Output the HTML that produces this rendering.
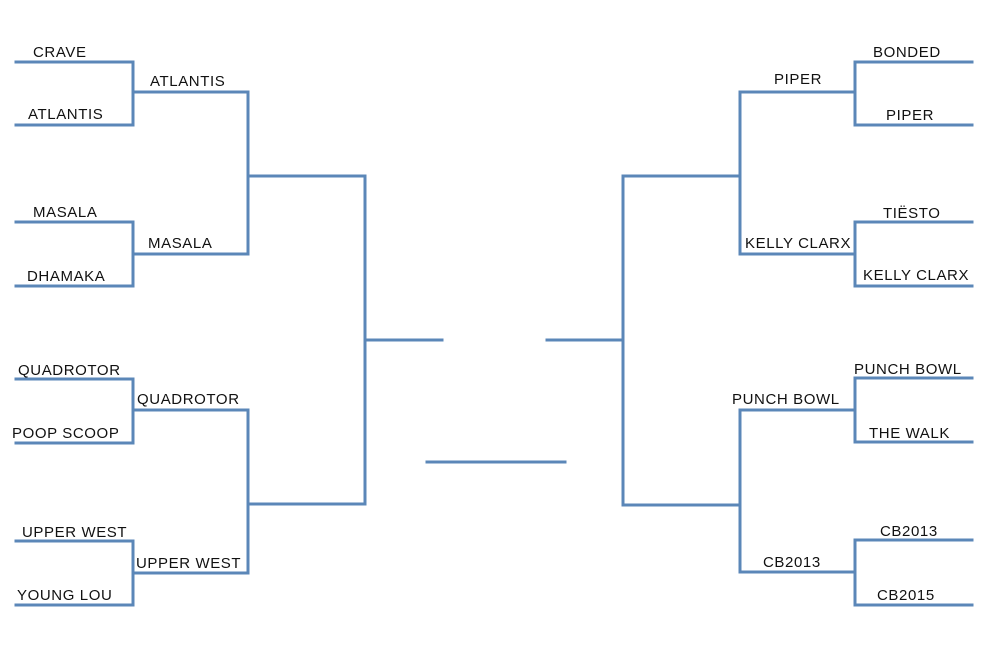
<!DOCTYPE html>
<html><head><meta charset="utf-8"><style>
html,body{margin:0;padding:0;background:#fff;width:1000px;height:655px;overflow:hidden}
svg text{font-family:"Liberation Sans",sans-serif;font-size:15px;fill:#111;letter-spacing:0.6px}
</style></head><body>
<svg width="1000" height="655" viewBox="0 0 1000 655">
<g stroke="#5b87b8" stroke-width="3" fill="none" stroke-linecap="square">
<!-- left top -->
<polyline points="16,62 133,62 133,125 16,125"/>
<polyline points="16,222 133,222 133,286 16,286"/>
<line x1="133" y1="92" x2="248" y2="92"/>
<line x1="133" y1="254" x2="248" y2="254"/>
<line x1="248" y1="92" x2="248" y2="254"/>
<line x1="248" y1="176" x2="365" y2="176"/>
<!-- left bottom -->
<polyline points="16,379 133,379 133,443 16,443"/>
<polyline points="16,541 133,541 133,605 16,605"/>
<line x1="133" y1="410" x2="248" y2="410"/>
<line x1="133" y1="573" x2="248" y2="573"/>
<line x1="248" y1="410" x2="248" y2="573"/>
<line x1="248" y1="504" x2="365" y2="504"/>
<line x1="365" y1="176" x2="365" y2="504"/>
<line x1="365" y1="340" x2="442" y2="340"/>
<!-- center -->
<line x1="427" y1="462" x2="565" y2="462"/>
<!-- right top -->
<polyline points="972,62 855,62 855,125 972,125"/>
<polyline points="972,222 855,222 855,286 972,286"/>
<line x1="740" y1="92" x2="855" y2="92"/>
<line x1="740" y1="254" x2="855" y2="254"/>
<line x1="740" y1="92" x2="740" y2="254"/>
<line x1="623" y1="176" x2="740" y2="176"/>
<!-- right bottom -->
<polyline points="972,378 855,378 855,442 972,442"/>
<polyline points="972,540 855,540 855,605 972,605"/>
<line x1="740" y1="410" x2="855" y2="410"/>
<line x1="740" y1="572" x2="855" y2="572"/>
<line x1="740" y1="410" x2="740" y2="572"/>
<line x1="623" y1="505" x2="740" y2="505"/>
<line x1="623" y1="176" x2="623" y2="505"/>
<line x1="547" y1="340" x2="623" y2="340"/>
</g>
<g>
<text x="33" y="57">CRAVE</text>
<text x="28" y="119">ATLANTIS</text>
<text x="150" y="86">ATLANTIS</text>
<text x="33" y="217">MASALA</text>
<text x="27" y="281">DHAMAKA</text>
<text x="148" y="248">MASALA</text>
<text x="18" y="375">QUADROTOR</text>
<text x="12" y="438">POOP SCOOP</text>
<text x="137" y="404">QUADROTOR</text>
<text x="22" y="537">UPPER WEST</text>
<text x="17" y="600">YOUNG LOU</text>
<text x="136" y="568">UPPER WEST</text>
<text x="873" y="57">BONDED</text>
<text x="886" y="120">PIPER</text>
<text x="774" y="84">PIPER</text>
<text x="883" y="218">TIËSTO</text>
<text x="863" y="280">KELLY CLARX</text>
<text x="745" y="248">KELLY CLARX</text>
<text x="854" y="374">PUNCH BOWL</text>
<text x="869" y="438">THE WALK</text>
<text x="732" y="404">PUNCH BOWL</text>
<text x="880" y="536">CB2013</text>
<text x="877" y="600">CB2015</text>
<text x="763" y="567">CB2013</text>
</g>
</svg>
</body></html>
